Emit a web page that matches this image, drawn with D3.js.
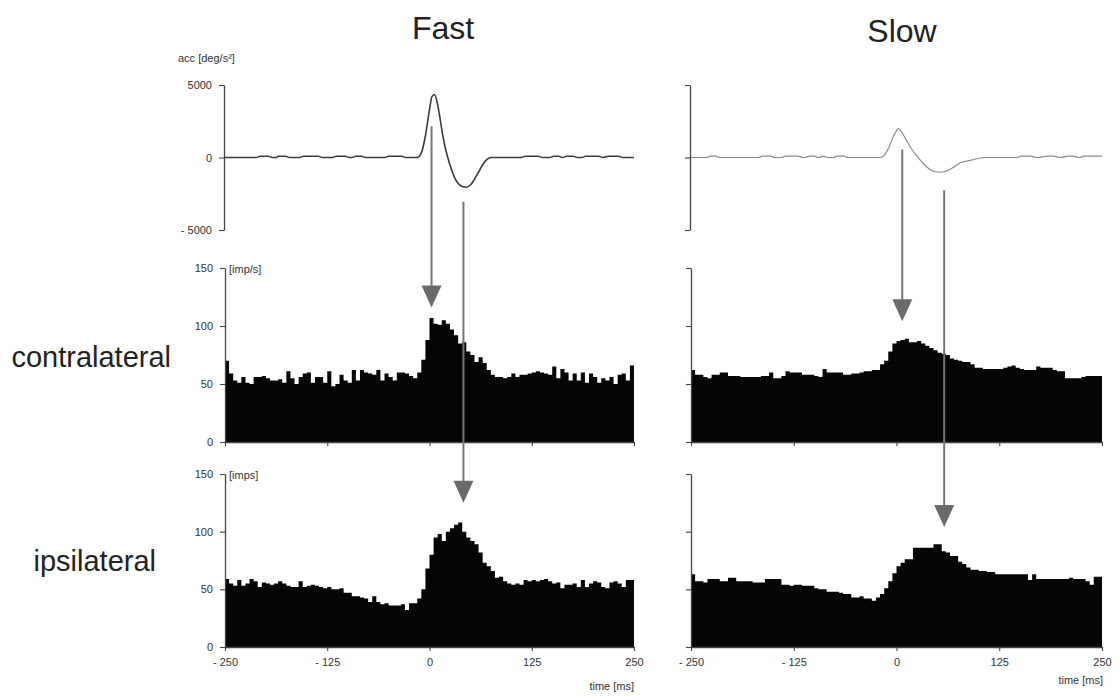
<!DOCTYPE html>
<html>
<head>
<meta charset="utf-8">
<script src="https://cdn.jsdelivr.net/npm/d3@7"></script>
<style>
  body { margin: 0; background: #fff; }
  text { font-family: "Liberation Sans", Arial, Helvetica, sans-serif; }
</style>
</head>
<body>
<div id="chart"></div>
<script>
// tick values
var timeTicks = [-250, -125, 0, 125, 250];
var accTicks = [5000, 0, -5000];
var rateTicks = [0, 50, 100, 150];

// histogram bins: 100 bins of 5 ms starting at -250 ms
var binStart = -250;
var binWidth = 5;

var fastContra = [70,59,53,51,56,51,50,56,56,57, 55,53,53,54,51,61,55,50,56,59,
  60,51,56,56,51,61,48,50,58,53, 51,62,53,62,60,59,58,62,53,59,
  56,53,60,60,59,57,55,60,71,88, 107,102,101,105,102,97,92,85,86,78,
  75,69,73,68,62,58,56,56,55,56, 59,56,58,58,59,60,61,60,59,58,
  65,55,63,60,53,59,53,60,51,59, 56,51,55,53,56,50,58,59,53,66];

var fastIpsi = [59,55,53,58,53,55,59,57,52,56, 55,54,55,57,55,53,52,52,57,52,
  53,54,53,52,51,52,50,50,51,47, 47,44,44,43,42,39,44,39,37,38,
  36,36,36,37,32,38,38,42,50,68, 80,95,98,92,100,103,106,108,100,95,
  92,89,82,73,70,66,60,61,57,55, 54,55,54,58,57,58,57,58,59,57,
  55,56,51,54,54,55,52,58,52,55, 57,56,52,51,56,57,55,52,58,58];

var slowContra = [62,58,58,56,55,58,58,60,60,57, 57,57,56,56,56,56,56,57,57,60,
  55,55,57,61,60,60,60,58,58,58, 57,56,63,60,60,60,60,58,58,59,
  59,60,61,61,62,62,67,70,78,85, 87,88,89,86,86,87,85,83,81,79,
  77,76,75,72,71,70,69,69,67,64, 64,63,63,63,63,63,64,65,66,64,
  63,62,62,62,65,64,64,64,62,61, 61,55,55,55,55,56,57,57,57,57];

var slowIpsi = [63,57,57,56,59,59,59,57,57,60, 60,57,57,57,57,56,56,56,59,59,
  59,59,54,54,53,54,54,53,53,53, 51,50,50,48,48,48,47,46,46,43,
  43,44,42,42,40,43,46,51,57,64, 70,73,76,76,86,86,86,86,86,89,
  89,83,82,79,79,74,72,69,67,67, 66,66,65,65,63,63,63,63,63,63,
  63,63,58,63,59,59,59,59,59,59, 59,59,60,59,59,59,57,54,61,61];

// head acceleration traces [deg/s^2]
var accFastT = [-250,-212,-207,-197,-192,-187,-185,-176,-171,-159,-154,-136,-131,-119,-114,-103,-98,
  -95,-90,-83,-78,-55,-50,-34,-29,-15,-10,-5,0,3,6,9,12,16,20,25,30,35,40,45,50,55,60,65,70,75,
  112,117,133,138,147,152,158,163,167,176,181,186,191,207,212,219,231,236,250];
var accFastV = [0,0,90,90,0,0,90,90,0,0,90,90,0,0,90,90,0,
  0,90,90,0,0,90,90,0,0,300,1500,3300,4200,4350,3900,3000,1600,500,-500,-1300,-1800,-2000,-2050,-1900,-1500,-1000,-500,-150,0,
  0,90,90,0,0,90,90,0,90,90,0,0,90,90,0,90,90,0,0];

var accSlowT = [-250,-231,-226,-220,-215,-168,-163,-153,-148,-140,-135,-120,-113,-105,-100,-95,-89,-84,
  -77,-72,-64,-59,-20,-15,-10,-5,0,2,5,10,15,20,25,30,35,40,45,50,56,62,70,78,90,100,110,
  146,151,163,171,184,191,200,208,215,223,228,248,250];
var accSlowV = [0,0,90,90,0,0,90,90,0,0,90,90,0,90,90,0,90,0,
  0,90,90,0,0,150,600,1300,1850,2000,1850,1400,900,450,100,-250,-550,-800,-950,-1000,-1000,-900,-650,-350,-200,-50,0,
  0,90,90,0,90,90,0,90,90,0,90,90,90];

// arrows: time [ms], start on acc trace panel, tip in the histogram row
var arrows = [
  { col: "fast", t: 2.5, fromAcc: 2150, row: "contra", toRate: 116 },
  { col: "fast", t: 41.5, fromAcc: -3050, row: "ipsi", toRate: 125 },
  { col: "slow", t: 7, fromAcc: 550, row: "contra", toRate: 104 },
  { col: "slow", t: 58, fromAcc: -2250, row: "ipsi", toRate: 104 }
];

var svgWidth = 1120;
var svgHeight = 700;

var svg = d3.select("#chart")
  .append("svg")
  .attr("width", svgWidth)
  .attr("height", svgHeight);

// column x scales
var xScales = {
  fast: d3.scaleLinear().domain([-250, 250]).range([225, 634]),
  slow: d3.scaleLinear().domain([-250, 250]).range([691, 1102])
};

// row y scales
var yScales = {
  acc: d3.scaleLinear().domain([-5000, 5000]).range([230, 85]),
  contra: d3.scaleLinear().domain([0, 150]).range([442, 268]),
  ipsi: d3.scaleLinear().domain([0, 150]).range([647, 474])
};

var histData = {
  fast: { contra: fastContra, ipsi: fastIpsi },
  slow: { contra: slowContra, ipsi: slowIpsi }
};

var minusFmt = function(d) { return d < 0 ? "- " + Math.abs(d) : d; };

function styleAxis(g) {
  g.selectAll("path.domain").attr("stroke", "#444").attr("stroke-width", 1.3);
  g.selectAll(".tick line").attr("stroke", "#444").attr("stroke-width", 1.1);
  g.selectAll(".tick text")
    .attr("fill", "#333")
    .style("font-size", "11px")
    .style("font-family", "'Liberation Sans', Arial, sans-serif");
}

["fast", "slow"].forEach(function(col) {
  var x = xScales[col];
  var showLabels = col === "fast";

  // acceleration trace
  var yAcc = yScales.acc;
  var accT = col === "fast" ? accFastT : accSlowT;
  var accV = col === "fast" ? accFastV : accSlowV;
  var pts = accT.map(function(t, i) { return [t, accV[i]]; });

  var line = d3.line()
    .x(d => x(d[0]))
    .y(d => yAcc(d[1]))
    .curve(d3.curveMonotoneX);

  svg.append("path")
    .datum(pts)
    .attr("d", line)
    .attr("fill", "none")
    .attr("stroke", col === "fast" ? "#3c3c3c" : "#8a8a8a")
    .attr("stroke-width", col === "fast" ? 1.6 : 1.2);

  var accAxis = svg.append("g")
    .attr("transform", `translate(${x.range()[0] - 1}, 0)`)
    .call(d3.axisLeft(yAcc).tickValues(accTicks).tickSize(5).tickSizeOuter(0)
      .tickPadding(7).tickFormat(showLabels ? minusFmt : ""));
  styleAxis(accAxis);

  // histograms, drawn as one stepped area so neighbouring bins join cleanly
  ["contra", "ipsi"].forEach(function(row) {
    var y = yScales[row];
    var values = histData[col][row];
    var steps = values.map((v, i) => [binStart + i * binWidth, v]);
    steps.push([binStart + values.length * binWidth, values[values.length - 1]]);

    var area = d3.area()
      .x(d => x(d[0]))
      .y0(y(0))
      .y1(d => y(d[1]))
      .curve(d3.curveStepAfter);

    svg.append("path")
      .datum(steps)
      .attr("d", area)
      .attr("fill", "#050505");

    var yAxis = svg.append("g")
      .attr("transform", `translate(${x.range()[0]}, 0)`)
      .call(d3.axisLeft(y).tickValues(rateTicks).tickSize(5).tickSizeOuter(0)
        .tickPadding(7).tickFormat(showLabels ? d3.format("d") : ""));
    styleAxis(yAxis);

    var xAxis = svg.append("g")
      .attr("transform", `translate(0, ${y(0)})`)
      .call(d3.axisBottom(x).tickValues(timeTicks).tickSize(4).tickSizeOuter(0)
        .tickPadding(7).tickFormat(row === "ipsi" ? minusFmt : ""));
    styleAxis(xAxis);
  });
});

// arrows linking acceleration to the response
arrows.forEach(function(a) {
  var ax = xScales[a.col](a.t);
  var y0 = yScales.acc(a.fromAcc);
  var y1 = yScales[a.row](a.toRate);
  var headH = 22, headW = 10;

  svg.append("line")
    .attr("x1", ax).attr("x2", ax)
    .attr("y1", y0).attr("y2", y1 - headH + 2)
    .attr("stroke", "#767676")
    .attr("stroke-width", 2);

  svg.append("path")
    .attr("d", `M${ax - headW},${y1 - headH} L${ax + headW},${y1 - headH} L${ax},${y1} Z`)
    .attr("fill", "#6a6a6a");
});

// titles and labels
svg.append("text").attr("x", 443).attr("y", 39).attr("text-anchor", "middle")
  .style("font-size", "32px").attr("fill", "#222").text("Fast");
svg.append("text").attr("x", 902).attr("y", 42).attr("text-anchor", "middle")
  .style("font-size", "32px").attr("fill", "#222").text("Slow");

svg.append("text").attr("x", 171).attr("y", 367).attr("text-anchor", "end")
  .style("font-size", "29px").attr("fill", "#222").text("contralateral");
svg.append("text").attr("x", 156).attr("y", 571).attr("text-anchor", "end")
  .style("font-size", "29px").attr("fill", "#222").text("ipsilateral");

svg.append("text").attr("x", 178).attr("y", 62)
  .style("font-size", "11px").attr("fill", "#333").text("acc [deg/s²]");
svg.append("text").attr("x", 229).attr("y", 273)
  .style("font-size", "11px").attr("fill", "#333").text("[imp/s]");
svg.append("text").attr("x", 229).attr("y", 479)
  .style("font-size", "11px").attr("fill", "#333").text("[imps]");

svg.append("text").attr("x", 634).attr("y", 690).attr("text-anchor", "end")
  .style("font-size", "11px").attr("fill", "#333").text("time [ms]");
svg.append("text").attr("x", 1103).attr("y", 684).attr("text-anchor", "end")
  .style("font-size", "11px").attr("fill", "#333").text("time [ms]");
</script>
</body>
</html>
